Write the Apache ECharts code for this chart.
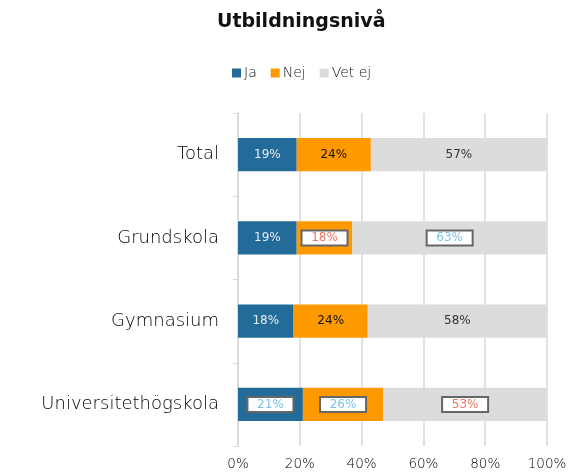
<!DOCTYPE html>
<html>
<head>
<meta charset="utf-8">
<script src="https://cdn.jsdelivr.net/npm/echarts@6/dist/echarts.min.js"></script>
<style>
  html, body { margin: 0; padding: 0; background: #fff; }
  #chart { width: 573px; height: 473px; }
</style>
</head>
<body>
<div id="chart"></div>
<script>
// Survey answers by education level (percent of respondents)
const categories = ['Total', 'Grundskola', 'Gymnasium', 'Universitethögskola'];
const ja    = [19, 19, 18, 21];
const nej   = [24, 18, 24, 26];
const vetEj = [57, 63, 58, 53];
const xTicks = [0, 20, 40, 60, 80, 100];

const FONT = 'DejaVu Sans';
const RED = '#ec7661';
const LIGHTBLUE = '#7fc0e6';

// Labels that are drawn in an outlined white box (series name -> row -> text colour)
const boxed = {
  'Ja':     { 3: LIGHTBLUE },
  'Nej':    { 1: RED, 3: LIGHTBLUE },
  'Vet ej': { 1: LIGHTBLUE, 3: RED }
};

function boxedLabel(color) {
  return {
    color: color,
    backgroundColor: '#fff',
    borderColor: '#666',
    borderWidth: 2,
    padding: [1, 7, 0, 7],
    width: 30,
    align: 'center'
  };
}

function makeSeries(name, values, color, textColor) {
  return {
    name: name,
    type: 'bar',
    stack: 'all',
    barWidth: '40%',
    itemStyle: { color: color },
    label: {
      show: true,
      position: 'inside',
      formatter: '{c}%',
      color: textColor,
      fontFamily: FONT,
      fontSize: 12
    },
    data: values.map((v, i) => {
      const c = boxed[name] && boxed[name][i];
      return c ? { value: v, label: boxedLabel(c) } : v;
    })
  };
}

const chart = echarts.init(document.getElementById('chart'));
chart.setOption({
  animation: false,
  title: {
    text: 'Utbildningsnivå',
    left: 212,
    top: 8,
    textStyle: { fontFamily: FONT, fontSize: 19, fontWeight: 'bold', color: '#111' }
  },
  legend: {
    top: 61,
    left: 227,
    itemWidth: 9,
    itemHeight: 9,
    itemGap: 14,
    icon: 'rect',
    textStyle: { fontFamily: FONT, fontWeight: 300, fontSize: 14, color: '#111', padding: [0, 0, 0, -2] },
    data: ['Ja', 'Nej', 'Vet ej']
  },
  grid: { left: 238, right: 26, top: 113, bottom: 27, containLabel: false },
  xAxis: {
    type: 'value',
    min: xTicks[0],
    max: xTicks[xTicks.length - 1],
    interval: xTicks[1] - xTicks[0],
    axisLine: { show: false },
    axisTick: { show: false },
    axisLabel: { formatter: '{value}%', fontFamily: FONT, fontWeight: 300, fontSize: 13.5, color: '#000', margin: 11 },
    splitLine: { show: true, lineStyle: { color: '#d9d9d9', width: 1.5 } }
  },
  yAxis: {
    type: 'category',
    inverse: true,
    data: categories,
    axisLine: { show: true, lineStyle: { color: '#d9d9d9', width: 1.5 } },
    axisTick: { show: true, length: 5, lineStyle: { color: '#d9d9d9' } },
    axisLabel: { fontFamily: FONT, fontWeight: 300, fontSize: 18, color: '#000', margin: 19 }
  },
  series: [
    makeSeries('Ja', ja, '#236c9a', '#e6ecf2'),
    makeSeries('Nej', nej, '#ff9900', '#111'),
    makeSeries('Vet ej', vetEj, '#dcdcdc', '#333')
  ]
});
</script>
</body>
</html>
